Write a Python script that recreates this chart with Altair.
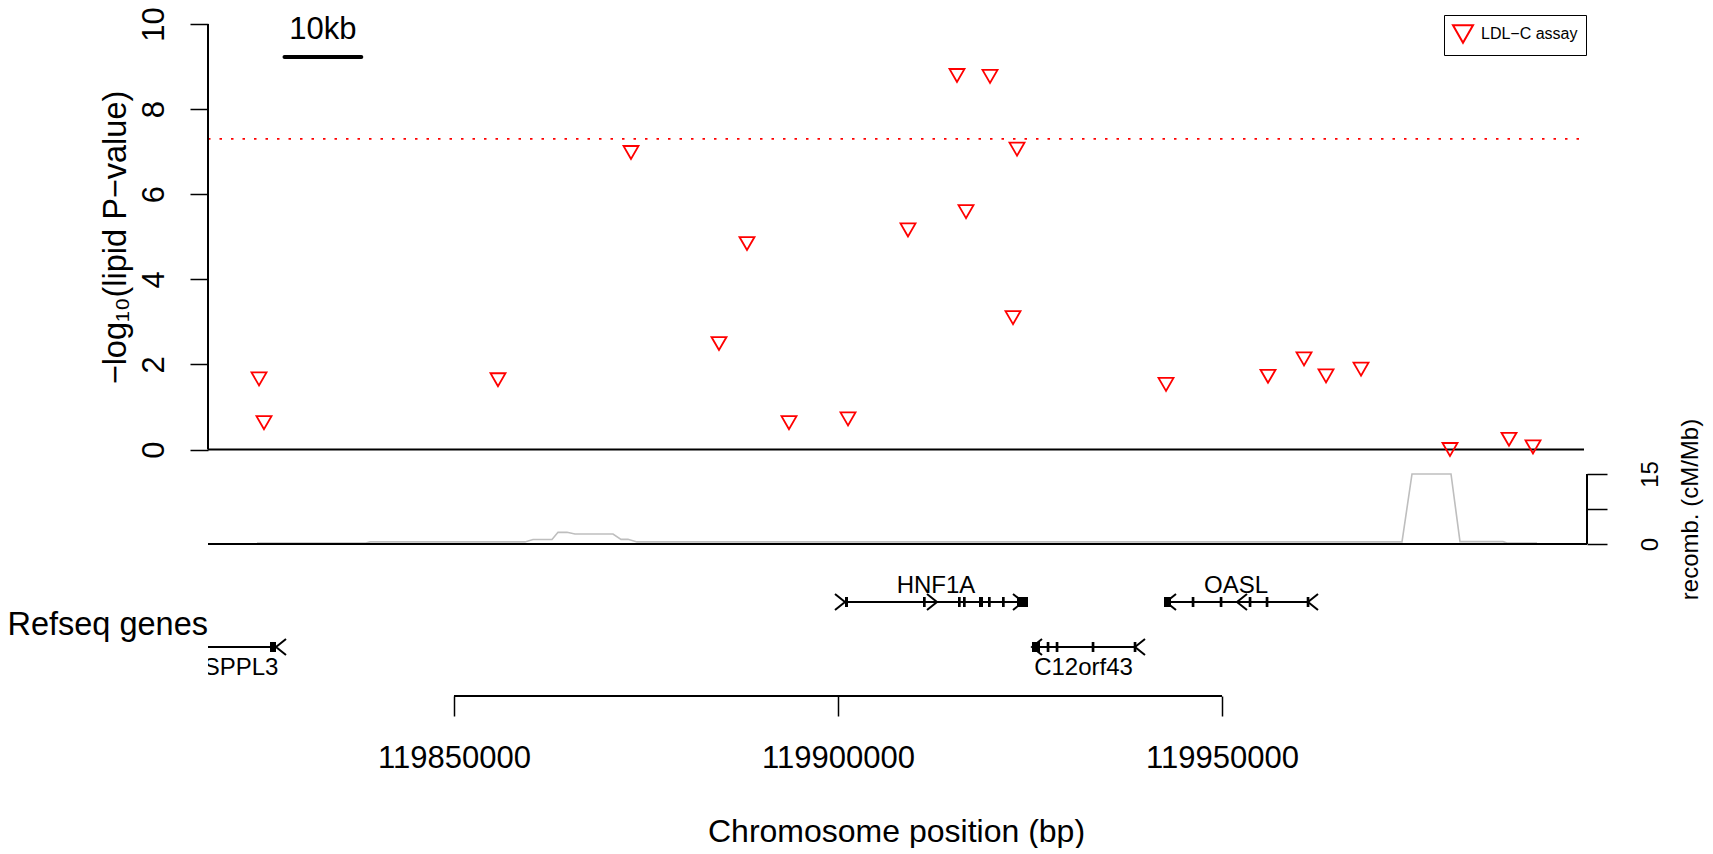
import altair as alt
import pandas as pd

# ---------------- data ----------------
# SNP association results (position in bp, -log10 P)
snp_pos = [119824614, 119825265, 119855732, 119873049, 119884506, 119888152,
           119893620, 119901302, 119909114, 119915494, 119916666, 119919790,
           119922785, 119923306, 119942706, 119955986, 119960673, 119963538,
           119968095, 119979682, 119987364, 119990489]
snp_logp = [1.66, 0.63, 1.64, 6.98, 2.49, 4.84, 0.63, 0.72, 5.16, 8.79, 5.59,
            8.77, 3.10, 7.06, 1.53, 1.72, 2.13, 1.73, 1.89, 0.0, 0.24, 0.06]
assay_name = "LDL\u2212C assay"

# recombination rate (cM/Mb)
recomb_pos = [119824354, 119838546, 119839066, 119859247, 119860289, 119862763,
              119863544, 119864716, 119865757, 119870705, 119871747, 119872658,
              119873830, 119973433, 119974735, 119979813, 119980984, 119986583,
              119987104, 119991010]
recomb_rate = [0.2, 0.2, 0.45, 0.45, 0.95, 0.95, 2.5, 2.5, 2.15, 2.15, 1.0, 1.0,
               0.45, 0.45, 15.0, 15.0, 0.5, 0.5, 0.2, 0.2]

# RefSeq genes
gene_name = ["SPPL3", "HNF1A", "C12orf43", "OASL"]
gene_start = [119812000, 119900911, 119925259, 119942445]
gene_end = [119826828, 119924738, 119938799, 119961194]
gene_row = [2, 1, 2, 1]
gene_label_pos = [119822271, 119912760, 119931964, 119951820]

exon_gene = ["SPPL3",
             "HNF1A", "HNF1A", "HNF1A", "HNF1A", "HNF1A", "HNF1A", "HNF1A", "HNF1A",
             "C12orf43", "C12orf43", "C12orf43", "C12orf43", "C12orf43",
             "OASL", "OASL", "OASL", "OASL", "OASL", "OASL"]
exon_start = [119826046,
              119900911, 119911067, 119915624, 119916275, 119918358, 119919530, 119921353, 119923306,
              119925259, 119927172, 119928344, 119933031, 119938499,
              119942445, 119946052, 119949699, 119953472, 119955686, 119961024]
exon_end = [119826828,
            119901302, 119911417, 119915974, 119916625, 119918879, 119919880, 119921703, 119924738,
            119926300, 119927522, 119928694, 119933381, 119938849,
            119943356, 119946402, 119950049, 119953822, 119956036, 119961374]

# strand chevrons (vertex position, direction)
chev_gene = ["SPPL3", "HNF1A", "HNF1A", "HNF1A", "C12orf43", "C12orf43", "OASL", "OASL", "OASL"]
chev_pos = [119826828, 119900911, 119912890, 119924087, 119925259, 119938669,
            119942706, 119951950, 119961194]
chev_dir = ["<", ">", ">", ">", "<", "<", "<", "<", "<"]

x_ticks = [119850000, 119900000, 119950000]
y_ticks = [0, 2, 4, 6, 8, 10]
recomb_ticks = [0, 7.5, 15]
gw_threshold = 7.30103
scalebar_start = 119827934
scalebar_len = 10000
scalebar_y = 9.225
scalebar_text_y = 9.65

X_MIN, X_MAX = 119817974, 119997129

# ---------------- tables ----------------
row_of = dict(zip(gene_name, gene_row))
snps = pd.DataFrame({"pos": snp_pos, "logp": snp_logp, "assay": assay_name})
rec = pd.DataFrame({"pos": recomb_pos, "rate": recomb_rate})
genes = pd.DataFrame({"name": gene_name, "start": gene_start, "end": gene_end,
                      "row": gene_row, "label_pos": gene_label_pos})
exons = pd.DataFrame({"gene": exon_gene, "start": exon_start, "end": exon_end})
exons["row"] = exons["gene"].map(row_of)
chevs = pd.DataFrame({"gene": chev_gene, "pos": chev_pos, "dir": chev_dir})
chevs["row"] = chevs["gene"].map(row_of)
span = pd.DataFrame({"x0": [X_MIN], "x1": [X_MAX]})
thr = span.assign(y=gw_threshold)
zero = span.assign(y=0)
p_axis_line = pd.DataFrame({"x0": [X_MIN], "lo": [y_ticks[0]], "hi": [y_ticks[-1]]})
r_axis_line = pd.DataFrame({"x1": [X_MAX], "lo": [recomb_ticks[0]], "hi": [recomb_ticks[-1]]})
bar = pd.DataFrame({"x0": [scalebar_start], "x1": [scalebar_start + scalebar_len],
                    "xm": [scalebar_start + scalebar_len / 2],
                    "y": [scalebar_y], "ty": [scalebar_text_y], "t": ["10kb"]})
xaxis_line = pd.DataFrame({"x0": [x_ticks[0]], "x1": [x_ticks[-1]]})
refseq = pd.DataFrame({"t": ["Refseq genes"]})

W, H = 1376, 672
FONT = "Liberation Sans"

xs = alt.Scale(domain=[X_MIN, X_MAX], nice=False, zero=False)
xaxis = alt.Axis(values=x_ticks, format="d", domain=False, grid=False,
                 tickSize=20, tickWidth=1.5, tickColor="black",
                 labelFontSize=31, labelColor="black", labelBaseline="alphabetic",
                 labelPadding=51, labelFlush=False, labelOverlap=False,
                 title="Chromosome position (bp)", titleFontSize=32,
                 titleFontWeight="normal", titleColor="black",
                 titleBaseline="alphabetic", titleY=145)

ys1 = alt.Scale(domain=[-5.793, 10], nice=False, zero=False)
yaxis1 = alt.Axis(values=y_ticks, domain=False, grid=False, tickSize=18,
                  tickWidth=1.5, tickColor="black", labelAngle=-90,
                  labelAlign="center", labelBaseline="alphabetic", labelPadding=27,
                  labelFontSize=31, labelColor="black", labelOverlap=False,
                  title="\u2212log\u2081\u2080(lipid P\u2212value)", titleFontSize=32.5,
                  titleFontWeight="normal", titleColor="black", titleAngle=270,
                  titleAlign="center", titleBaseline="bottom", titleX=-76, titleY=213)

ysr = alt.Scale(domain=[-32.57, 111.43], nice=False, zero=False)
raxis = alt.Axis(orient="right", offset=3, values=recomb_ticks, domain=False,
                 grid=False, tickSize=20, tickWidth=1.5, tickColor="black",
                 labelExpr="datum.value == 7.5 ? '' : datum.label",
                 labelAngle=-90, labelAlign="center", labelBaseline="alphabetic",
                 labelPadding=50, labelFontSize=24, labelColor="black",
                 labelOverlap=False, title="recomb. (cM/Mb)", titleFontSize=24,
                 titleFontWeight="normal", titleColor="black", titleAngle=270,
                 titleAlign="center", titleBaseline="top", titleX=91, titleY=485)

ysg = alt.Scale(domain=[-11.844, 3.089], nice=False, zero=False, reverse=True)


def X(f):
    return alt.X(f, type="quantitative", scale=xs, axis=xaxis)


# ---------------- association panel ----------------
thr_l = alt.Chart(thr).mark_rule(color="red", strokeDash=[2.5, 9], strokeWidth=1.8).encode(
    x=X("x0"), x2="x1", y=alt.Y("y:Q", scale=ys1, axis=yaxis1))
zero_l = alt.Chart(zero).mark_rule(color="black", strokeWidth=2).encode(
    x=X("x0"), x2="x1", y=alt.Y("y:Q", scale=ys1, axis=yaxis1))
pax_l = alt.Chart(p_axis_line).mark_rule(color="black", strokeWidth=2).encode(
    x=X("x0"), y=alt.Y("lo:Q", scale=ys1, axis=yaxis1), y2="hi")
bar_l = alt.Chart(bar).mark_rule(color="black", strokeWidth=4, strokeCap="round").encode(
    x=X("x0"), x2="x1", y=alt.Y("y:Q", scale=ys1, axis=yaxis1))
bart_l = alt.Chart(bar).mark_text(fontSize=31, font=FONT, baseline="alphabetic",
                                  align="center", color="black").encode(
    x=X("xm"), y=alt.Y("ty:Q", scale=ys1, axis=yaxis1), text="t")
pts_l = alt.Chart(snps).mark_point(shape="triangle-down", filled=False, size=225,
                                   strokeWidth=1.8, opacity=1).encode(
    x=X("pos"), y=alt.Y("logp:Q", scale=ys1, axis=yaxis1),
    color=alt.Color("assay:N", scale=alt.Scale(range=["red"]),
                    legend=alt.Legend(title=None, orient="none", legendX=1236, legendY=-9,
                                      padding=8, strokeColor="black", fillColor="white",
                                      labelFontSize=16, labelFont=FONT, labelColor="black",
                                      labelOffset=7, symbolSize=400, symbolStrokeWidth=2,
                                      symbolType="triangle-down",
                                      symbolFillColor="transparent")))
assoc = alt.layer(thr_l, zero_l, pax_l, bar_l, bart_l, pts_l)

# ---------------- recombination panel ----------------
rax_l = alt.Chart(r_axis_line).mark_rule(color="black", strokeWidth=2, xOffset=3).encode(
    x=X("x1"), y=alt.Y("lo:Q", scale=ysr, axis=raxis), y2="hi")
rbase_l = alt.Chart(span.assign(y=0)).mark_rule(color="black", strokeWidth=2, x2Offset=3).encode(
    x=X("x0"), x2="x1", y=alt.Y("y:Q", scale=ysr, axis=raxis))
rline_l = alt.Chart(rec).mark_line(color="#BEBEBE", strokeWidth=1.6).encode(
    x=X("pos"), y=alt.Y("rate:Q", scale=ysr, axis=raxis))
recomb = alt.layer(rline_l, rbase_l, rax_l)

# ---------------- gene panel ----------------
YG = lambda f: alt.Y(f, type="quantitative", scale=ysg, axis=None)
gl_l = alt.Chart(genes).mark_rule(color="black", strokeWidth=2, clip=True).encode(
    x=X("start"), x2="end", y=YG("row"))
ex_l = alt.Chart(exons).mark_rect(color="black", yOffset=-5, y2Offset=5, clip=True).encode(
    x=X("start"), x2="end", y=YG("row"), y2="row")
chev_r = alt.Chart(chevs).transform_filter(alt.datum.dir == ">").mark_point(
    shape="M-1.25,-1L0,0L-1.25,1", filled=False, size=256, color="black",
    strokeWidth=2, opacity=1, clip=True).encode(x=X("pos"), y=YG("row"))
chev_lf = alt.Chart(chevs).transform_filter(alt.datum.dir == "<").mark_point(
    shape="M1.25,-1L0,0L1.25,1", filled=False, size=256, color="black",
    strokeWidth=2, opacity=1, clip=True).encode(x=X("pos"), y=YG("row"))
lab1 = alt.Chart(genes).transform_filter(alt.datum.row == 1).mark_text(
    fontSize=24, font=FONT, baseline="alphabetic", align="center", dy=-9,
    color="black", clip=True).encode(x=X("label_pos"), y=YG("row"), text="name")
lab2 = alt.Chart(genes).transform_filter(alt.datum.row == 2).mark_text(
    fontSize=24, font=FONT, baseline="alphabetic", align="center", dy=28,
    color="black", clip=True).encode(x=X("label_pos"), y=YG("row"), text="name")
refseq_l = alt.Chart(refseq).mark_text(fontSize=32.5, font=FONT, baseline="alphabetic",
                                       align="right", color="black").encode(
    x=alt.value(0), y=alt.value(611), text="t")
xline_l = alt.Chart(xaxis_line).mark_rule(color="black", strokeWidth=2).encode(
    x=X("x0"), x2="x1", y=alt.value(H))
genes_panel = alt.layer(gl_l, ex_l, chev_r, chev_lf, lab1, lab2, refseq_l, xline_l)

chart = alt.layer(assoc, recomb, genes_panel).resolve_scale(
    y="independent", color="independent"
).properties(
    width=W, height=H,
    autosize=alt.AutoSizeParams(type="none"),
    padding={"left": 200, "top": 16, "right": 121, "bottom": 152},
).configure(font=FONT, view=alt.ViewConfig(stroke=None))

chart.save("out.html", embed_options={"renderer": "svg", "actions": False})
